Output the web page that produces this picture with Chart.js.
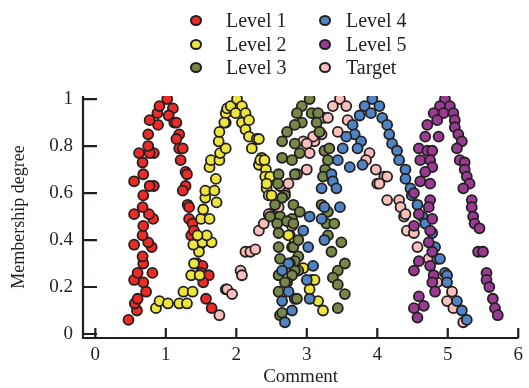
<!DOCTYPE html>
<html>
<head>
<meta charset="utf-8">
<script src="https://cdn.jsdelivr.net/npm/chart.js@4"></script>
<style>
  body { margin: 0; background: #fff; }
  #wrap { position: relative; width: 529px; height: 388px; }
  #legend { position: absolute; left: 0; top: 0; width: 529px; height: 90px;
    font-family: 'Liberation Serif', 'Times New Roman', serif; font-size: 20px; color: #231f20; }
  .item { position: absolute; line-height: 20px; white-space: nowrap; }
  .dot { position: absolute; width: 8px; height: 7px; border: 2px solid #231f20; border-radius: 50%; }
</style>
</head>
<body>
<div id="wrap">
  <canvas id="grafico"></canvas>
  <div id="legend"></div>
</div>
<script>
const seriesNames = ['Level 1', 'Level 2', 'Level 3', 'Level 4', 'Level 5', 'Target'];
const seriesColors = ['#ec2a26', '#eee53a', '#768848', '#4f84c4', '#9a3b93', '#f8bfbd'];

const xTicks = [0, 1, 2, 3, 4, 5, 6];
const xLabels = ['0', '1', '2', '3', '4', '5', '6'];
const yTicks = [0, 0.2, 0.4, 0.6, 0.8, 1];
const yLabels = ['0', '0.2', '0.4', '0.6', '0.8', '1'];

// [comment, membership]
const level1 = [[0.47,0.06],[0.59,0.10],[0.56,0.13],[0.60,0.15],[0.72,0.18],[0.68,0.22],[0.55,0.23],[0.60,0.26],
  [0.81,0.26],[0.68,0.30],[0.67,0.33],[0.80,0.37],[0.55,0.38],[0.75,0.39],[0.67,0.42],[0.68,0.46],[0.82,0.49],
  [0.76,0.51],[0.55,0.51],[0.67,0.54],[0.68,0.59],[0.83,0.63],[0.77,0.63],[0.55,0.65],[0.68,0.68],[0.67,0.73],
  [0.83,0.77],[0.77,0.77],[0.62,0.77],[0.75,0.80],[0.75,0.85],[0.89,0.89],[0.77,0.91],[0.88,0.94],[0.91,0.97],
  [1.02,1.00],[1.10,0.96],[1.04,0.93],[1.12,0.90],[1.15,0.90],[1.19,0.85],[1.15,0.83],[1.19,0.79],[1.24,0.79],
  [1.21,0.74],[1.28,0.69],[1.30,0.68],[1.28,0.63],[1.24,0.61],[1.31,0.55],[1.33,0.54],[1.33,0.49],[1.38,0.47],
  [1.36,0.42],[1.40,0.44],[1.47,0.37],[1.44,0.30],[1.52,0.29],[1.50,0.26],[1.61,0.25],[1.53,0.22],[1.57,0.15],[1.65,0.11]];

const level2 = [[0.86,0.11],[0.91,0.14],[1.03,0.13],[1.19,0.13],[1.30,0.13],[1.25,0.18],[1.38,0.18],[1.36,0.25],
  [1.48,0.25],[1.40,0.30],[1.47,0.35],[1.39,0.38],[1.52,0.39],[1.65,0.39],[1.58,0.42],[1.45,0.42],[1.50,0.49],
  [1.62,0.49],[1.53,0.53],[1.56,0.58],[1.72,0.56],[1.56,0.61],[1.69,0.61],[1.71,0.66],[1.62,0.71],[1.64,0.74],
  [1.76,0.74],[1.77,0.77],[1.85,0.79],[1.75,0.82],[1.76,0.86],[1.85,0.90],[1.85,0.94],[1.87,0.96],[1.92,0.97],
  [2.01,1.00],[2.08,0.97],[1.99,0.94],[2.13,0.94],[1.83,0.90],[2.08,0.90],[2.18,0.91],[2.13,0.87],[2.18,0.84],
  [2.29,0.83],[2.32,0.83],[2.22,0.79],[2.36,0.75],[2.32,0.72],[2.34,0.74],[2.40,0.74],[2.42,0.70],[2.41,0.67],
  [2.48,0.67],[2.43,0.62],[2.43,0.64],[2.46,0.59],[2.50,0.59],[2.79,0.46],[2.76,0.42],[2.74,0.42],[2.83,0.39],
  [2.79,0.37],[2.95,0.28],[3.07,0.23],[3.11,0.23],[3.04,0.19],[3.16,0.14],[3.23,0.10]];

const level3 = [[3.04,1.00],[2.93,0.97],[2.86,0.94],[3.07,0.94],[3.16,0.94],[2.93,0.90],[2.83,0.89],[3.14,0.90],
  [3.18,0.86],[2.72,0.86],[2.65,0.82],[2.83,0.81],[2.90,0.77],[2.65,0.75],[2.79,0.74],[3.25,0.78],[3.32,0.79],
  [3.30,0.74],[3.26,0.70],[2.60,0.68],[2.83,0.68],[2.59,0.64],[2.69,0.59],[2.65,0.58],[2.55,0.55],[2.81,0.55],
  [2.90,0.52],[2.48,0.50],[2.62,0.50],[2.79,0.49],[2.72,0.48],[2.58,0.47],[2.81,0.47],[2.60,0.43],[2.60,0.37],
  [2.81,0.37],[2.88,0.40],[3.23,0.67],[3.21,0.55],[3.30,0.52],[3.28,0.47],[3.39,0.47],[3.30,0.42],[3.49,0.39],
  [3.35,0.35],[3.54,0.30],[3.44,0.27],[2.62,0.32],[2.88,0.33],[2.83,0.31],[2.76,0.30],[2.88,0.27],[2.83,0.27],
  [2.60,0.25],[2.79,0.25],[2.72,0.22],[2.69,0.22],[2.60,0.18],[2.83,0.15],[2.86,0.15],[3.37,0.24],[3.44,0.21],
  [3.54,0.17],[3.44,0.11],[2.62,0.08],[2.65,0.09]];

const level4 = [[3.93,1.00],[3.82,0.97],[4.03,0.97],[3.75,0.93],[3.91,0.94],[4.07,0.92],[4.14,0.89],[3.65,0.89],
  [3.68,0.85],[3.56,0.84],[3.77,0.82],[4.17,0.85],[3.72,0.79],[3.51,0.79],[4.21,0.81],[4.28,0.78],[3.44,0.74],
  [4.31,0.74],[3.61,0.71],[3.79,0.72],[4.40,0.70],[3.35,0.68],[3.37,0.65],[3.21,0.62],[3.42,0.62],[4.40,0.66],
  [3.25,0.54],[3.47,0.54],[3.04,0.50],[3.21,0.49],[2.95,0.44],[3.25,0.40],[3.02,0.37],[3.09,0.29],[2.74,0.30],
  [2.65,0.27],[3.00,0.23],[3.04,0.15],[2.74,0.18],[2.65,0.14],[2.79,0.10],[2.69,0.05],[4.47,0.62],[4.49,0.59],
  [4.57,0.55],[4.64,0.50],[4.68,0.47],[4.78,0.43],[4.82,0.37],[4.85,0.32],[4.89,0.32],[4.96,0.26],[4.99,0.25],
  [4.99,0.22],[5.13,0.14],[5.20,0.10],[5.27,0.06]];

const level5 = [[4.96,1.00],[4.89,0.97],[5.03,0.97],[4.80,0.94],[4.94,0.94],[5.08,0.94],[4.85,0.91],[5.10,0.91],
  [4.71,0.89],[5.10,0.88],[4.68,0.84],[4.87,0.84],[5.15,0.85],[5.20,0.82],[5.13,0.79],[4.59,0.79],[4.71,0.78],
  [4.78,0.78],[4.61,0.74],[4.75,0.74],[5.17,0.74],[5.24,0.73],[4.78,0.71],[4.68,0.69],[5.24,0.70],[4.61,0.65],
  [4.75,0.64],[5.27,0.67],[5.31,0.64],[5.22,0.62],[4.52,0.60],[4.75,0.57],[5.34,0.57],[4.73,0.54],[5.34,0.54],
  [4.59,0.51],[4.78,0.49],[5.36,0.50],[4.52,0.46],[5.38,0.47],[5.45,0.45],[4.75,0.44],[4.73,0.39],[4.78,0.35],
  [5.43,0.35],[5.50,0.35],[4.59,0.31],[4.75,0.29],[4.52,0.27],[5.55,0.26],[5.55,0.23],[4.80,0.25],[4.78,0.22],
  [5.59,0.20],[4.82,0.18],[4.59,0.16],[5.64,0.15],[4.52,0.11],[4.66,0.12],[5.67,0.11],[5.71,0.08],[4.57,0.07]];

const target = [[1.76,0.08],[1.85,0.19],[1.87,0.19],[1.94,0.17],[2.06,0.27],[2.08,0.25],[2.13,0.35],[2.20,0.35],
  [2.27,0.36],[2.32,0.44],[2.39,0.47],[2.48,0.51],[2.46,0.51],[2.60,0.54],[2.69,0.60],[2.62,0.63],[2.74,0.64],
  [2.86,0.68],[3.00,0.70],[2.95,0.82],[3.11,0.82],[3.09,0.84],[3.21,0.85],[3.25,0.92],[3.47,1.00],[3.37,0.97],
  [3.56,0.97],[3.30,0.92],[3.58,0.91],[3.44,0.86],[3.18,0.86],[3.00,0.81],[3.04,0.77],[3.89,0.77],[3.84,0.74],
  [3.98,0.70],[4.00,0.64],[4.10,0.67],[4.14,0.67],[4.03,0.64],[4.14,0.57],[4.31,0.57],[4.33,0.54],[4.38,0.50],
  [4.40,0.51],[4.42,0.44],[4.52,0.43],[4.57,0.37],[4.73,0.32],[4.85,0.22],[5.06,0.18],[4.99,0.14],[5.08,0.11],
  [5.22,0.05]];

const allSeries = [level1, level2, level3, level4, level5, target];
const drawOrder = [4, 3, 2, 1, 0, 5]; // higher = drawn underneath

const serif = "'Liberation Serif', 'Times New Roman', serif";
const ink = '#231f20';

// legend: two columns of three
const legend = document.getElementById('legend');
seriesNames.forEach((name, i) => {
  const col = Math.floor(i / 3), row = i % 3;
  const dot = document.createElement('div');
  dot.className = 'dot';
  dot.style.background = seriesColors[i];
  dot.style.left = (190 + col * 129) + 'px';
  dot.style.top = (15 + row * 23.5) + 'px';
  legend.appendChild(dot);
  const txt = document.createElement('div');
  txt.className = 'item';
  txt.textContent = name;
  txt.style.left = (226 + col * 120) + 'px';
  txt.style.top = (10 + row * 23.5) + 'px';
  legend.appendChild(txt);
});

// axis lines and inward tick marks
const frame = {
  id: 'frame',
  beforeDatasetsDraw(chart) {
    const { ctx, chartArea: a, scales: { x, y } } = chart;
    ctx.save();
    ctx.strokeStyle = ink;
    ctx.lineWidth = 2.2;
    ctx.beginPath();
    ctx.moveTo(a.left, a.top);
    ctx.lineTo(a.left, a.bottom);
    ctx.lineTo(a.right, a.bottom);
    xTicks.forEach(v => {
      const p = x.getPixelForValue(v);
      ctx.moveTo(p, a.bottom);
      ctx.lineTo(p, a.bottom - 10);
    });
    yTicks.forEach(v => {
      const p = y.getPixelForValue(v);
      ctx.moveTo(a.left, p);
      ctx.lineTo(a.left + 14, p);
    });
    ctx.stroke();
    ctx.restore();
  }
};

const ctx = document.getElementById('grafico').getContext('2d');
new Chart(ctx, {
  type: 'scatter',
  data: {
    datasets: allSeries.map((pts, i) => ({
      label: seriesNames[i],
      data: pts.map(p => ({ x: p[0], y: p[1] })),
      order: drawOrder[i],
      backgroundColor: seriesColors[i],
      borderColor: ink,
      borderWidth: 1.8,
      pointRadius: 5,
      pointHoverRadius: 5
    }))
  },
  options: {
    responsive: true,
    maintainAspectRatio: false,
    animation: false,
    events: [],
    layout: { padding: { top: 96, right: 6, left: 0, bottom: 0 } },
    plugins: { legend: { display: false }, tooltip: { enabled: false } },
    scales: {
      x: {
        type: 'linear',
        min: -0.175,
        max: 6,
        afterBuildTicks: s => { s.ticks = xTicks.map(v => ({ value: v })); },
        afterFit: s => { s.height = 50; },
        grid: { display: false, drawTicks: false },
        border: { display: false },
        ticks: {
          padding: 6,
          color: ink,
          font: { family: serif, size: 19 },
          callback: (v, i) => xLabels[i]
        },
        title: {
          display: true,
          text: 'Comment',
          color: ink,
          padding: 0,
          font: { family: serif, size: 19 }
        }
      },
      y: {
        type: 'linear',
        min: -0.017,
        max: 1.013,
        afterBuildTicks: s => { s.ticks = yTicks.map(v => ({ value: v })); },
        afterFit: s => { s.width = 83; },
        grid: { display: false, drawTicks: false },
        border: { display: false },
        ticks: {
          padding: 10,
          color: ink,
          font: { family: serif, size: 19 },
          callback: (v, i) => yLabels[i]
        },
        title: {
          display: true,
          text: 'Membership degree',
          color: ink,
          padding: { top: 8, bottom: 0 },
          font: { family: serif, size: 18 }
        }
      }
    }
  },
  plugins: [frame]
});
</script>
</body>
</html>
